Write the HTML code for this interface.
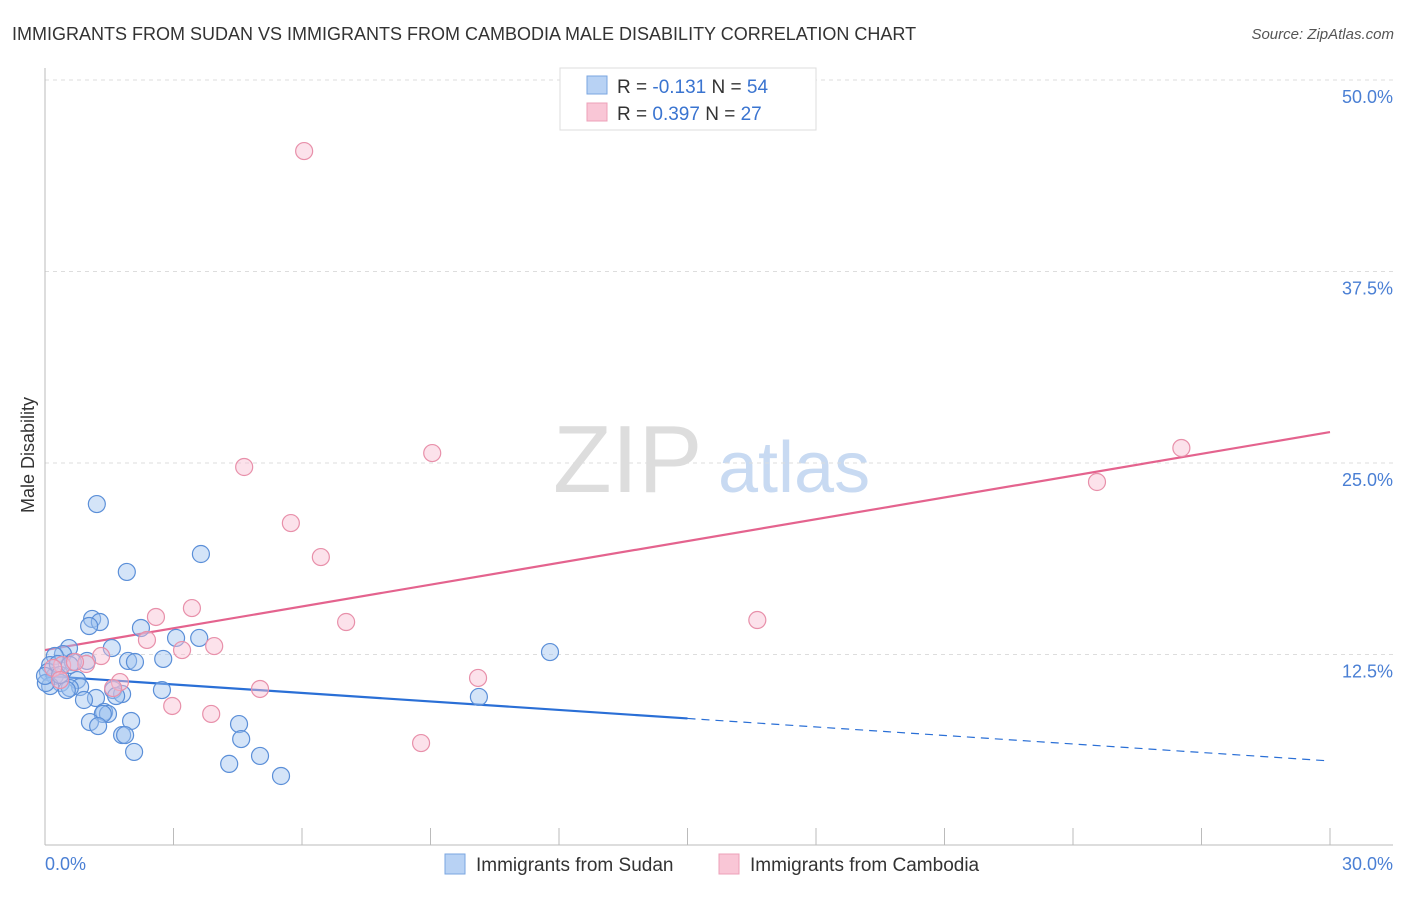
<!DOCTYPE html>
<html><head><meta charset="utf-8"><style>
body{margin:0;background:#fff;font-family:"Liberation Sans",sans-serif;}
svg text{font-family:"Liberation Sans",sans-serif;}
</style></head><body>
<svg id="chart" width="1406" height="892" viewBox="0 0 1406 892" xmlns="http://www.w3.org/2000/svg">
<text x="12" y="40" font-size="18" fill="#333">IMMIGRANTS FROM SUDAN VS IMMIGRANTS FROM CAMBODIA MALE DISABILITY CORRELATION CHART</text>
<text x="1394" y="39" font-size="15" font-style="italic" fill="#555" text-anchor="end">Source: ZipAtlas.com</text>
<g>
<text x="553" y="492" font-size="96" font-family="Liberation Serif,serif" fill="#ddd">ZIP</text>
<text x="718" y="492" font-size="72" fill="#c8daf2">atlas</text>
</g>
<g id="grid"></g>
<line x1="45" y1="68" x2="45" y2="845" stroke="#bbb"/>
<line x1="45" y1="845" x2="1393" y2="845" stroke="#bbb"/>
<g id="ticks"></g>
<text transform="translate(34,455) rotate(-90)" font-size="18" fill="#333" text-anchor="middle">Male Disability</text>
<text x="45" y="870" font-size="18" fill="#4a7fd4">0.0%</text>
<text x="1393" y="870" font-size="18" fill="#4a7fd4" text-anchor="end">30.0%</text>
<g id="lines"></g>
<g id="points"></g>
<g>
<rect x="560" y="68" width="256" height="62" fill="#fff" stroke="#ddd"/>
<rect x="587" y="76" width="20" height="18" fill="#b8d2f4" stroke="#7aa6e0"/>
<rect x="587" y="103" width="20" height="18" fill="#f9c6d6" stroke="#eda0b8"/>
<text x="617" y="93" font-size="19" fill="#333">R = <tspan fill="#3a74d0">-0.131</tspan>   N = <tspan fill="#3a74d0">54</tspan></text>
<text x="617" y="120" font-size="19" fill="#333">R = <tspan fill="#3a74d0"> 0.397</tspan>   N = <tspan fill="#3a74d0">27</tspan></text>
</g>
<g>
<rect x="445" y="854" width="20" height="20" fill="#b8d2f4" stroke="#7aa6e0"/>
<text x="476" y="871" font-size="19" fill="#333">Immigrants from Sudan</text>
<rect x="719" y="854" width="20" height="20" fill="#f9c6d6" stroke="#eda0b8"/>
<text x="750" y="871" font-size="19" fill="#333">Immigrants from Cambodia</text>
</g>
</svg>
<script>
const yTicks=[12.5,25,37.5,50];
const yTickLabels=["12.5%","25.0%","37.5%","50.0%"];
const xTicks=[0,3,6,9,12,15,18,21,24,27,30];
const sudanX=[1.21,3.64,1.91,1.10,1.28,1.03,2.24,3.06,3.60,1.56,0.56,0.42,0.23,0.98,1.94,2.10,2.76,0.12,0.07,0.23,0.75,0.37,0.82,0.58,0.12,0.51,1.59,1.80,2.73,1.19,0.91,1.66,1.38,1.47,1.35,2.01,1.05,1.24,4.53,1.80,1.87,4.58,2.08,5.02,4.30,5.51,11.79,10.13,0.02,0.30,0.65,0.0,0.35,0.58];
const sudanY=[22.32,19.06,17.89,14.82,14.62,14.36,14.23,13.58,13.58,12.92,12.92,12.53,12.40,12.08,12.08,12.01,12.21,11.81,11.36,11.10,10.83,10.64,10.38,10.31,10.44,10.18,10.18,9.92,10.18,9.66,9.53,9.79,8.75,8.62,8.62,8.16,8.09,7.83,7.96,7.24,7.24,6.98,6.14,5.88,5.36,4.57,12.66,9.73,10.64,11.88,12.01,11.10,11.16,11.81];
const cambX=[6.05,9.04,4.65,26.53,24.56,5.74,6.44,3.43,2.59,7.03,16.63,2.38,3.95,3.20,1.31,0.96,0.40,0.19,1.75,1.59,5.02,10.11,2.97,3.88,8.78,0.35,0.70];
const cambY=[45.36,25.65,24.74,25.98,23.76,21.08,18.86,15.53,14.95,14.62,14.75,13.45,13.05,12.79,12.40,11.88,11.81,11.62,10.70,10.31,10.25,10.97,9.14,8.62,6.72,10.83,12.01];
const sudanTrend=[11.10,5.55];
const cambTrend=[12.79,27.02];
const NS="http://www.w3.org/2000/svg";
const sx=v=>45+v/30*1285;
const sy=v=>846-v/12.5*191.5;
function mk(tag,attrs,parent){const e=document.createElementNS(NS,tag);for(const k in attrs)e.setAttribute(k,attrs[k]);document.getElementById(parent).appendChild(e);return e;}
yTicks.forEach((t,i)=>{
 const l=mk('line',{x1:45,x2:1393,y1:sy(t),y2:sy(t),stroke:'#ddd','stroke-dasharray':'4,4'},'grid');
 
 
 const tx=mk('text',{x:1393,y:sy(t)+23,'font-size':18,fill:'#4a7fd4','text-anchor':'end'},'grid');
 tx.textContent=yTickLabels[i];
 
 
});
xTicks.forEach(t=>{
 const l=mk('line',{x1:sx(t),x2:sx(t),y1:828,y2:845,stroke:'#bbb'},'ticks');
 
 
});
const xBreak=15;
const sAt=x=>sudanTrend[0]+(sudanTrend[1]-sudanTrend[0])*x/30;
let a=mk('line',{x1:sx(0),y1:sy(sAt(0)),x2:sx(xBreak),y2:sy(sAt(xBreak)),stroke:'#2a6fd6','stroke-width':2.2},'lines');


a=mk('line',{x1:sx(xBreak),y1:sy(sAt(xBreak)),x2:sx(30),y2:sy(sAt(30)),stroke:'#2a6fd6','stroke-width':1.2,'stroke-dasharray':'8,6'},'lines');


a=mk('line',{x1:sx(0),y1:sy(cambTrend[0]),x2:sx(30),y2:sy(cambTrend[1]),stroke:'#e4638e','stroke-width':2.2},'lines');


sudanX.forEach((x,i)=>{
 const c=mk('circle',{cx:sx(x),cy:sy(sudanY[i]),r:8.5,fill:'rgba(160,196,240,0.45)',stroke:'#5b8fd8','stroke-width':1.2},'points');
 
 
});
cambX.forEach((x,i)=>{
 const c=mk('circle',{cx:sx(x),cy:sy(cambY[i]),r:8.5,fill:'rgba(248,190,210,0.45)',stroke:'#e890aa','stroke-width':1.2},'points');
 
 
});
</script>
</body></html>
